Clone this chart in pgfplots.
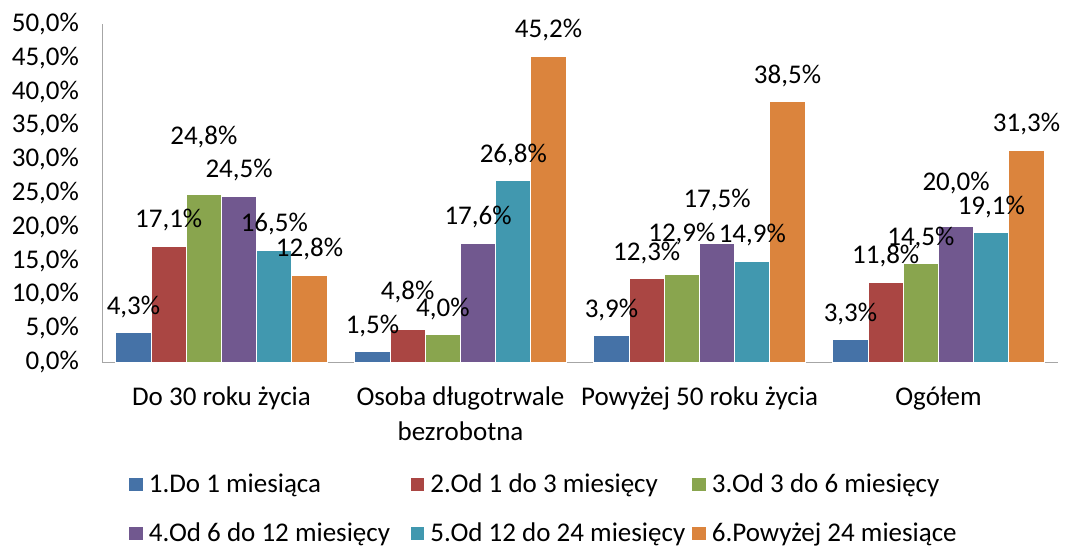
\documentclass[border=0pt]{standalone}
\usepackage{fontspec}
\setmainfont{Carlito}
\usepackage{pgfplots}
\pgfplotsset{compat=1.18}
\usepackage{pgfplotstable}

\definecolor{c1}{HTML}{4572A7}
\definecolor{c2}{HTML}{AA4643}
\definecolor{c3}{HTML}{89A54E}
\definecolor{c4}{HTML}{71588F}
\definecolor{c5}{HTML}{4198AF}
\definecolor{c6}{HTML}{DB843D}

\pgfplotstableread{
x y off
0 4.3 0
1 1.5 0
2 3.9 0
3 3.3 0
}\sA
\pgfplotstableread{
x y off
0 17.1 0
1 4.8 6
2 12.3 0
3 11.8 0
}\sB
\pgfplotstableread{
x y off
0 24.8 15.5
1 4.0 0
2 12.9 7.5
3 14.5 0
}\sC
\pgfplotstableread{
x y off
0 24.5 0
1 17.6 0
2 17.5 9
3 20.0 9
}\sD
\pgfplotstableread{
x y off
0 16.5 0
1 26.8 0
2 14.9 0
3 19.1 0
}\sE
\pgfplotstableread{
x y off
0 12.8 0
1 45.2 0
2 38.5 0
3 31.3 0
}\sF

\newcommand{\legbox}[1]{\makebox[129pt][l]{#1}}

\begin{document}
\begin{tikzpicture}[font=\fontsize{13.5}{16}\selectfont]
\begin{axis}[
  scale only axis, width=478pt, height=169pt,
  xmin=-0.5, xmax=3.5, ymin=0, ymax=50,
  axis x line=bottom, axis y line=left,
  axis line style={draw=gray!70, -},
  major tick length=0pt,
  xtick={0,1,2,3},
  xticklabels={Do 30 roku życia, {Osoba długotrwale\\[0pt]bezrobotna}, Powyżej 50 roku życia, Ogółem},
  xticklabel style={align=center, yshift=-9pt, text=black, font=\fontsize{13.5}{17.5}\selectfont},
  ytick={0,5,...,50},
  yticklabel={\pgfmathprintnumber[fixed,fixed zerofill,precision=1,use comma]{\tick}\%},
  yticklabel style={xshift=-8pt, text=black},
  /pgf/number format/assume math mode=true,
  ybar=0pt, bar width=17.6pt,
  nodes near coords={\pgfmathprintnumber[fixed,fixed zerofill,precision=1,use comma]{\pgfplotspointmeta}\%},
  visualization depends on={\thisrow{off} \as \myoff},
  every node near coord/.append style={anchor=center, yshift={(13+\myoff)*1pt}, text=black},
  legend columns=3,
  legend cell align=left,
  legend image code/.code={\fill[#1, draw=none] (0pt,-3.375pt) rectangle (6.75pt,3.375pt);},
  legend style={at={(axis description cs:0,0)}, anchor=west, xshift=13.5pt, yshift=-73.5pt,
    draw=none, fill=none, inner sep=0pt, column sep=1pt, row sep=9.5pt,
    /tikz/every even column/.append style={column sep=0pt},
    font=\fontsize{13.5}{16}\selectfont},
  clip=false,
]
\addplot[fill=c1, draw=white, line width=0.5pt] table[x=x,y=y] {\sA};
\addplot[fill=c2, draw=white, line width=0.5pt] table[x=x,y=y] {\sB};
\addplot[fill=c3, draw=white, line width=0.5pt] table[x=x,y=y] {\sC};
\addplot[fill=c4, draw=white, line width=0.5pt] table[x=x,y=y] {\sD};
\addplot[fill=c5, draw=white, line width=0.5pt] table[x=x,y=y] {\sE};
\addplot[fill=c6, draw=white, line width=0.5pt] table[x=x,y=y] {\sF};
\legend{\legbox{1.Do 1 miesiąca}, \legbox{2.Od 1 do 3 miesięcy}, \legbox{3.Od 3 do 6 miesięcy}, \legbox{4.Od 6 do 12 miesięcy}, \legbox{5.Od 12 do 24 miesięcy}, \legbox{6.Powyżej 24 miesiące}}
\end{axis}
\pgfresetboundingbox
\path[use as bounding box] (-51pt,-92.5pt) rectangle (481.5pt,181pt);
\end{tikzpicture}
\end{document}
